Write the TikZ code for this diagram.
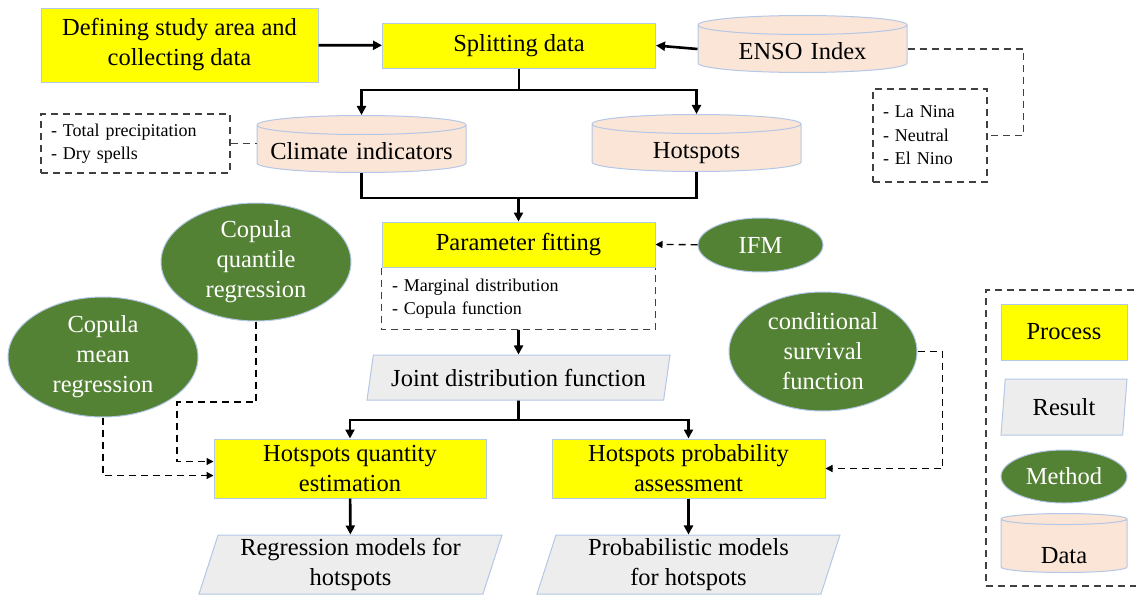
\documentclass[tikz,border=0pt]{standalone}
\usepackage{fontspec}
\setmainfont{Liberation Serif}
\usepackage{xcolor}
\usepackage{tikz}
\usetikzlibrary{positioning,shapes.geometric,arrows.meta}
\definecolor{ProcYellow}{RGB}{255,255,0}
\definecolor{EdgeBlue}{RGB}{180,199,231}
\definecolor{DataPeach}{RGB}{251,229,214}
\definecolor{MethGreen}{RGB}{84,130,53}
\definecolor{ResGray}{RGB}{237,237,237}
\definecolor{NoteGray}{RGB}{64,64,64}
\newcommand{\mainsize}{\fontsize{24.5}{30}\selectfont}
\newcommand{\notesize}{\fontsize{18}{23.5}\selectfont}
\tikzset{
    procbox/.style={rectangle, draw=EdgeBlue, fill=ProcYellow, line width=1pt, font=\mainsize, align=center, inner sep=0pt},
    resbox/.style={trapezium, trapezium left angle=70, trapezium right angle=110, trapezium stretches body, draw=EdgeBlue, fill=ResGray, line width=1pt, font=\mainsize, align=center, inner sep=0pt},
    methnode/.style={ellipse, draw=EdgeBlue, fill=MethGreen, line width=1pt, text=white, font=\mainsize, align=center, inner sep=0pt},
    datanode/.style={cylinder, shape border rotate=90, aspect=0.1, draw=EdgeBlue, cylinder uses custom fill, cylinder body fill=DataPeach, cylinder end fill=DataPeach, line width=1pt, font=\mainsize, align=center, inner sep=0pt, text width=190pt, text height=24pt, text depth=4pt}
}

\begin{document}
\begin{tikzpicture}[
                x=1pt, y=-1pt,
                notebox/.style={
                    rectangle,
                    draw=NoteGray,
                    line width=1.3pt,
                    dash pattern=on 7pt off 5pt,
                    font=\notesize,
                    align=left,
                    inner xsep=10pt
                },
                plainline/.style={draw=black, line width=2.6pt},
                arrowline/.style={plainline, -{Triangle[length=9pt,width=9pt]}},
                dashline/.style={draw=NoteGray, line width=1.3pt, dash pattern=on 7pt off 5pt},
                dasharrow/.style={draw=black, line width=1.3pt, dash pattern=on 7pt off 5pt, -{Triangle[length=7pt,width=7pt]}}
            ]
                \useasboundingbox (0,0) rectangle (1136,597);

                \node[procbox, minimum width=277pt, minimum height=74pt] (define) at (179.5,45) {Defining study area and\\collecting data};
                \node[procbox, minimum width=273pt, minimum height=45pt] (split) at (519,45.5) {Splitting data};
                \node[datanode, minimum width=209pt, minimum height=48pt] (enso) at (802.5,49) {ENSO Index};
                \node[notebox, text width=94pt, minimum height=93pt] (ensonote) at (930,135.5) {- La Nina\\- Neutral\\- El Nino};
                \node[notebox, text width=169pt, minimum height=59pt] (climnote) at (135.5,143.5) {- Total precipitation\\- Dry spells};
                \node[datanode, minimum width=209pt, minimum height=48pt] (climate) at (361.5,149) {Climate indicators};
                \node[datanode, minimum width=209pt, minimum height=48pt] (hotspots) at (696.5,148) {Hotspots};

                \node[procbox, minimum width=273pt, minimum height=45pt] (param) at (518.5,244.5) {Parameter fitting};
                \node[notebox, draw=none, text width=253pt, minimum height=61pt, below=0pt of param] (paramtext) {- Marginal distribution\\- Copula function};
                \node[methnode, minimum width=125pt, minimum height=54pt] (ifm) at (760.5,245) {IFM};

                \node[methnode, minimum width=190pt, minimum height=118pt] (quantile) at (256,262) {Copula\\quantile\\regression};
                \node[methnode, minimum width=190pt, minimum height=120pt] (mean) at (103,357) {Copula\\mean\\regression};
                \node[methnode, minimum width=188pt, minimum height=119pt] (csf) at (823,351.5) {conditional\\survival\\function};

                \node[resbox, minimum width=303pt, minimum height=45pt] (joint) at (518.5,377.5) {Joint distribution function};
                \node[procbox, minimum width=272pt, minimum height=59pt] (hq) at (350,468.5) {Hotspots quantity\\estimation};
                \node[procbox, minimum width=273pt, minimum height=59pt] (hp) at (688.5,468.5) {Hotspots probability\\assessment};
                \node[resbox, minimum width=303pt, minimum height=59pt] (regr) at (350.5,564.5) {Regression models for\\hotspots};
                \node[resbox, minimum width=303pt, minimum height=59pt] (prob) at (688.5,564.5) {Probabilistic models\\for hotspots};

                % legend
                \node[notebox, minimum width=154pt, minimum height=296pt] (legend) at (1063,438) {};
                \node[procbox, minimum width=126pt, minimum height=56pt] (legproc) at (1064,332) {Process};
                \node[resbox, trapezium left angle=76, trapezium right angle=104, minimum width=126pt, minimum height=56pt] (legres) at (1064,407) {Result};
                \node[methnode, minimum width=126pt, minimum height=53pt] (legmeth) at (1064,476.5) {Method};
                \node[datanode, text width=110pt, text height=38pt, minimum width=126pt, minimum height=42pt] (legdata) at (1064,546) {Data};

                \coordinate (splitjoin) at (519,90);
                \coordinate (datajoin) at (518.5,198);
                \coordinate (resjoin) at (518.5,420);

                \draw[arrowline] (define) -- (split);
                \draw[arrowline] (enso.west) -- (split.east);
                \draw[plainline] (split) -- (splitjoin);
                \draw[arrowline] (splitjoin) -| (climate.north);
                \draw[arrowline] (splitjoin) -| (hotspots.north);
                \draw[plainline] (climate.south) |- (datajoin) -| (hotspots.south);
                \draw[arrowline] (datajoin) -- (param.north);
                \draw[dashline] (paramtext.north west) -- (paramtext.south west) -- (paramtext.south east) -- (paramtext.north east);
                \draw[arrowline] (paramtext.south) -- (joint.north);
                \draw[plainline] (joint.south) -- (resjoin);
                \draw[arrowline] (resjoin) -| (hq.north);
                \draw[arrowline] (resjoin) -| (hp.north);
                \draw[arrowline] (hq) -- (regr);
                \draw[arrowline] (hp) -- (prob);

                \draw[dashline] (climnote.east) -- (climnote.east -| climate.west);
                \draw[dashline] (enso.east) -- ++(116,0) |- (ensonote.east);
                \draw[dasharrow] (ifm) -- (param.east);
                \draw[dasharrow] (quantile.south) |- (177,402) |- ([yshift=7pt]hq.west);
                \draw[dasharrow] (mean.south) |- ([yshift=-7pt]hq.west);
                \draw[dasharrow] (csf.east) -- ++(25,0) |- (hp.east);
            \end{tikzpicture}
\end{document}
